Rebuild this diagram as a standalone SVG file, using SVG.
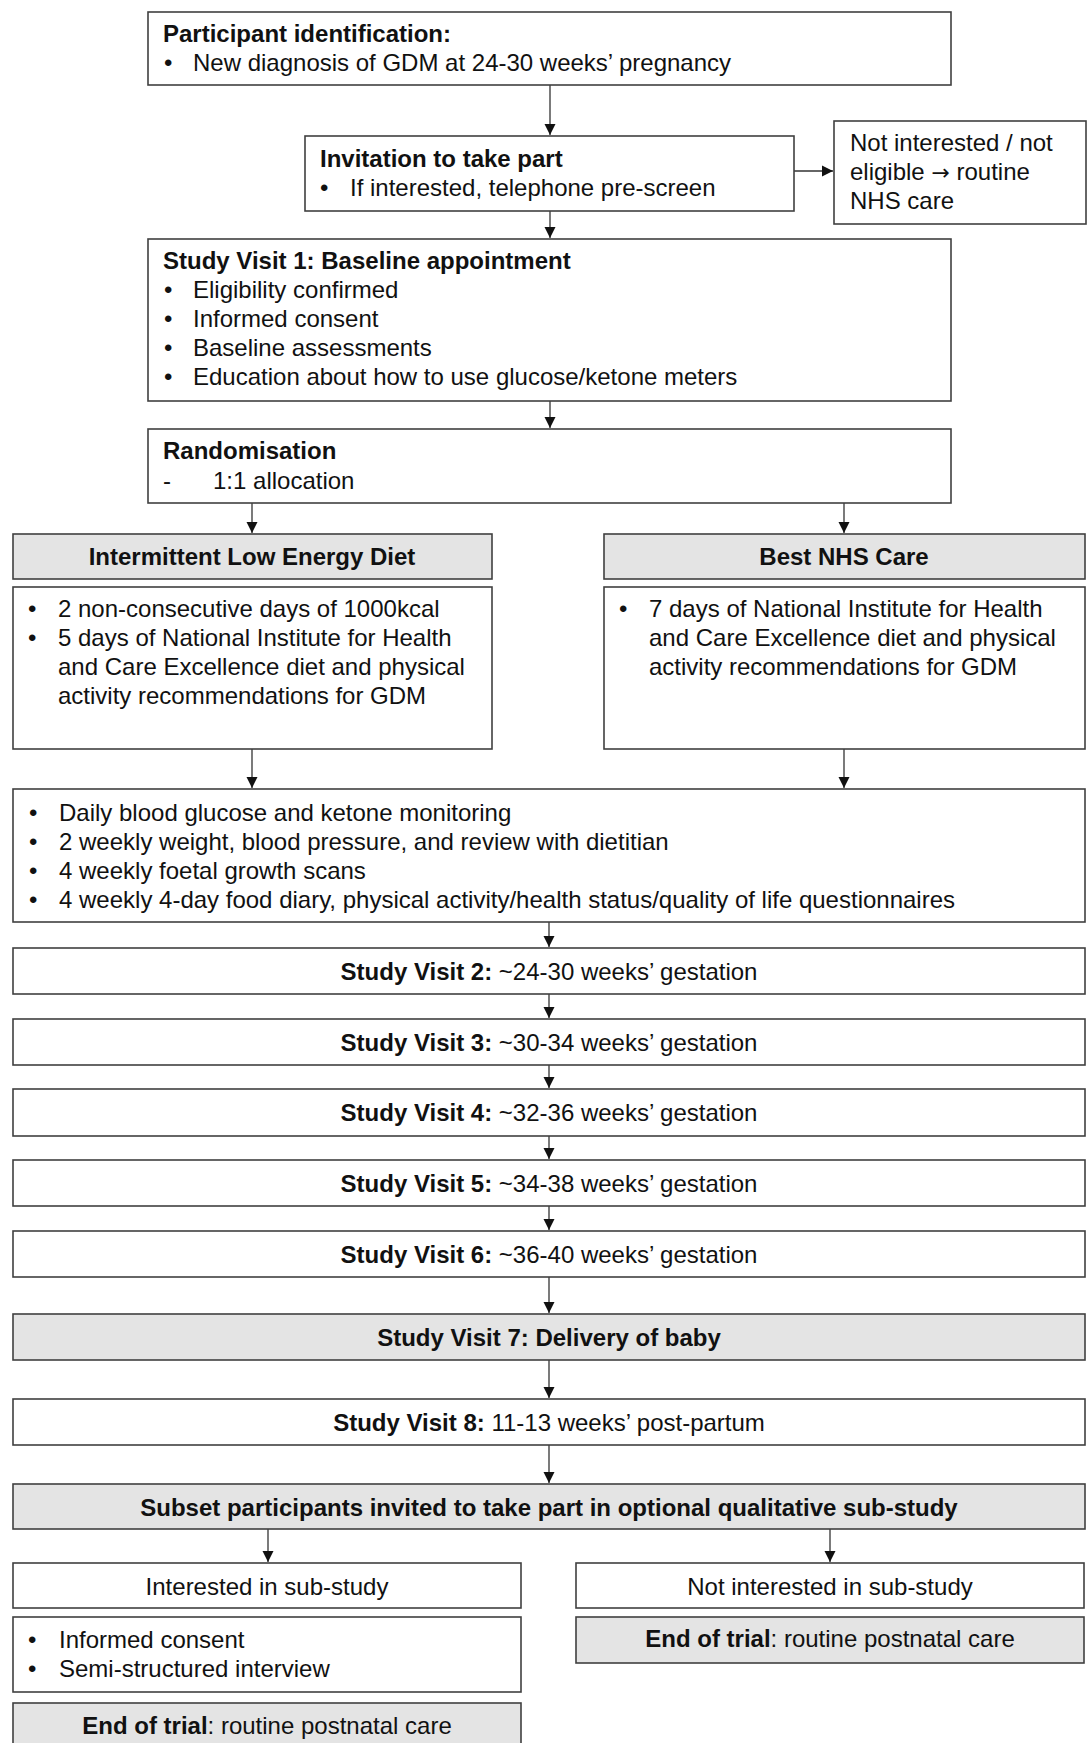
<svg xmlns="http://www.w3.org/2000/svg" width="1087" height="1743" viewBox="0 0 1087 1743">
<defs>
<style>
.box{fill:#ffffff;stroke:#404040;stroke-width:1.6}
.gray{fill:#e4e4e4;stroke:#404040;stroke-width:1.6}
text{font-family:"Liberation Sans",Arial,sans-serif;font-size:24px;fill:#111}
.b{font-weight:bold}
.c{text-anchor:middle}
.arr{font-family:"DejaVu Sans",sans-serif;font-size:22px}
.conn line{stroke:#333;stroke-width:1.3}
</style>
<marker id="ah" viewBox="0 0 11 12" refX="11" refY="6" markerWidth="11" markerHeight="12" markerUnits="userSpaceOnUse" orient="auto">
<path d="M0,0.5 L11,6 L0,11.5 z" fill="#111"/>
</marker>
</defs>
<rect width="1087" height="1743" fill="#ffffff"/>

<g id="connectors" class="conn">
<line x1="550" y1="85" x2="550" y2="135" marker-end="url(#ah)"/>
<line x1="550" y1="211" x2="550" y2="238" marker-end="url(#ah)"/>
<line x1="794" y1="171" x2="833" y2="171" marker-end="url(#ah)"/>
<line x1="550" y1="401" x2="550" y2="428" marker-end="url(#ah)"/>
<line x1="252" y1="503" x2="252" y2="533" marker-end="url(#ah)"/>
<line x1="844" y1="503" x2="844" y2="533" marker-end="url(#ah)"/>
<line x1="252" y1="749" x2="252" y2="788" marker-end="url(#ah)"/>
<line x1="844" y1="749" x2="844" y2="788" marker-end="url(#ah)"/>
<line x1="549" y1="922" x2="549" y2="947" marker-end="url(#ah)"/>
<line x1="549" y1="994" x2="549" y2="1018" marker-end="url(#ah)"/>
<line x1="549" y1="1065" x2="549" y2="1088" marker-end="url(#ah)"/>
<line x1="549" y1="1136" x2="549" y2="1159" marker-end="url(#ah)"/>
<line x1="549" y1="1206" x2="549" y2="1230" marker-end="url(#ah)"/>
<line x1="549" y1="1277" x2="549" y2="1313" marker-end="url(#ah)"/>
<line x1="549" y1="1360" x2="549" y2="1398" marker-end="url(#ah)"/>
<line x1="549" y1="1445" x2="549" y2="1483" marker-end="url(#ah)"/>
<line x1="268" y1="1529" x2="268" y2="1562" marker-end="url(#ah)"/>
<line x1="830" y1="1529" x2="830" y2="1562" marker-end="url(#ah)"/>
</g>

<g id="participant-identification">
<rect class="box" x="148" y="12" width="803" height="73"/>
<text class="b" x="163" y="42">Participant identification:</text>
<text x="164" y="71">•</text>
<text x="193" y="71">New diagnosis of GDM at 24-30 weeks’ pregnancy</text>
</g>

<g id="invitation">
<rect class="box" x="305" y="136" width="489" height="75"/>
<text class="b" x="320" y="167">Invitation to take part</text>
<text x="320" y="196">•</text>
<text x="350" y="196">If interested, telephone pre-screen</text>
</g>

<g id="not-interested">
<rect class="box" x="834" y="121" width="252" height="103"/>
<text x="850" y="151">Not interested / not</text>
<text x="850" y="180">eligible <tspan class="arr">→</tspan> routine</text>
<text x="850" y="209">NHS care</text>
</g>

<g id="study-visit-1">
<rect class="box" x="148" y="239" width="803" height="162"/>
<text class="b" x="163" y="269">Study Visit 1: Baseline appointment</text>
<text x="164" y="298">•</text><text x="193" y="298">Eligibility confirmed</text>
<text x="164" y="327">•</text><text x="193" y="327">Informed consent</text>
<text x="164" y="356">•</text><text x="193" y="356">Baseline assessments</text>
<text x="164" y="385">•</text><text x="193" y="385">Education about how to use glucose/ketone meters</text>
</g>

<g id="randomisation">
<rect class="box" x="148" y="429" width="803" height="74"/>
<text class="b" x="163" y="459">Randomisation</text>
<text x="163" y="489">-</text>
<text x="213" y="489">1:1 allocation</text>
</g>

<g id="iled-header">
<rect class="gray" x="13" y="534" width="479" height="45"/>
<text class="b c" x="252" y="565">Intermittent Low Energy Diet</text>
</g>

<g id="iled-content">
<rect class="box" x="13" y="587" width="479" height="162"/>
<text x="28" y="617">•</text><text x="58" y="617">2 non-consecutive days of 1000kcal</text>
<text x="28" y="646">•</text><text x="58" y="646">5 days of National Institute for Health</text>
<text x="58" y="675">and Care Excellence diet and physical</text>
<text x="58" y="704">activity recommendations for GDM</text>
</g>

<g id="nhs-header">
<rect class="gray" x="604" y="534" width="481" height="45"/>
<text class="b c" x="844" y="565">Best NHS Care</text>
</g>

<g id="nhs-content">
<rect class="box" x="604" y="587" width="481" height="162"/>
<text x="619" y="617">•</text><text x="649" y="617">7 days of National Institute for Health</text>
<text x="649" y="646">and Care Excellence diet and physical</text>
<text x="649" y="675">activity recommendations for GDM</text>
</g>

<g id="monitoring">
<rect class="box" x="13" y="789" width="1072" height="133"/>
<text x="29" y="821">•</text><text x="59" y="821">Daily blood glucose and ketone monitoring</text>
<text x="29" y="850">•</text><text x="59" y="850">2 weekly weight, blood pressure, and review with dietitian</text>
<text x="29" y="879">•</text><text x="59" y="879">4 weekly foetal growth scans</text>
<text x="29" y="908">•</text><text x="59" y="908">4 weekly 4-day food diary, physical activity/health status/quality of life questionnaires</text>
</g>

<g id="study-visit-2">
<rect class="box" x="13" y="948" width="1072" height="46"/>
<text class="c" x="549" y="980"><tspan class="b">Study Visit 2:</tspan> ~24-30 weeks’ gestation</text>
</g>

<g id="study-visit-3">
<rect class="box" x="13" y="1019" width="1072" height="46"/>
<text class="c" x="549" y="1051"><tspan class="b">Study Visit 3:</tspan> ~30-34 weeks’ gestation</text>
</g>

<g id="study-visit-4">
<rect class="box" x="13" y="1089" width="1072" height="47"/>
<text class="c" x="549" y="1121"><tspan class="b">Study Visit 4:</tspan> ~32-36 weeks’ gestation</text>
</g>

<g id="study-visit-5">
<rect class="box" x="13" y="1160" width="1072" height="46"/>
<text class="c" x="549" y="1192"><tspan class="b">Study Visit 5:</tspan> ~34-38 weeks’ gestation</text>
</g>

<g id="study-visit-6">
<rect class="box" x="13" y="1231" width="1072" height="46"/>
<text class="c" x="549" y="1263"><tspan class="b">Study Visit 6:</tspan> ~36-40 weeks’ gestation</text>
</g>

<g id="study-visit-7">
<rect class="gray" x="13" y="1314" width="1072" height="46"/>
<text class="b c" x="549" y="1346">Study Visit 7: Delivery of baby</text>
</g>

<g id="study-visit-8">
<rect class="box" x="13" y="1399" width="1072" height="46"/>
<text class="c" x="549" y="1431"><tspan class="b">Study Visit 8:</tspan> 11-13 weeks’ post-partum</text>
</g>

<g id="substudy-invite">
<rect class="gray" x="13" y="1484" width="1072" height="45"/>
<text class="b c" x="549" y="1516">Subset participants invited to take part in optional qualitative sub-study</text>
</g>

<g id="interested">
<rect class="box" x="13" y="1563" width="508" height="45"/>
<text class="c" x="267" y="1595">Interested in sub-study</text>
</g>

<g id="interview">
<rect class="box" x="13" y="1617" width="508" height="75"/>
<text x="28" y="1648">•</text><text x="59" y="1648">Informed consent</text>
<text x="28" y="1677">•</text><text x="59" y="1677">Semi-structured interview</text>
</g>

<g id="end-left">
<rect class="gray" x="13" y="1703" width="508" height="50"/>
<text class="c" x="267" y="1734"><tspan class="b">End of trial</tspan>: routine postnatal care</text>
</g>

<g id="not-interested-sub">
<rect class="box" x="576" y="1563" width="508" height="45"/>
<text class="c" x="830" y="1595">Not interested in sub-study</text>
</g>

<g id="end-right">
<rect class="gray" x="576" y="1617" width="508" height="46"/>
<text class="c" x="830" y="1647"><tspan class="b">End of trial</tspan>: routine postnatal care</text>
</g>
</svg>
